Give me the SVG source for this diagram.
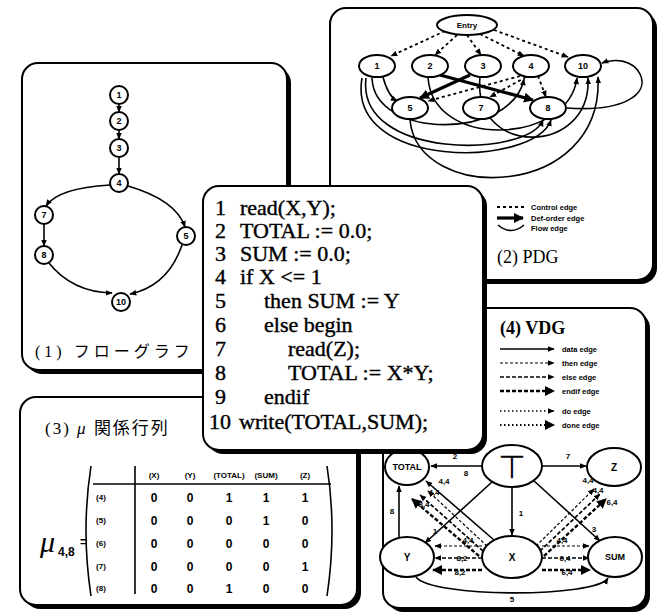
<svg xmlns="http://www.w3.org/2000/svg" width="664" height="616" viewBox="0 0 664 616">
<style>
.pan{fill:#fff;stroke:#000;stroke-width:2}
.sh{fill:#000}
.ln{fill:none;stroke:#000;stroke-width:1.6}
.nd{fill:#fff;stroke:#000;stroke-width:2}
.nt{font-family:"Liberation Sans",Arial,sans-serif;font-weight:bold;font-size:9px;text-anchor:middle;dominant-baseline:central}
.code{font-family:"Liberation Serif","Times New Roman",serif;font-size:22px;fill:#000;stroke:#000;stroke-width:0.4}
.ttl{font-family:"Liberation Serif","Noto Sans CJK JP",serif;font-size:17px;fill:#000}
.lg{font-family:"Liberation Sans",Arial,sans-serif;font-weight:bold;font-size:7.5px;fill:#000}
.sm{font-family:"Liberation Sans",Arial,sans-serif;font-weight:bold;font-size:8px;fill:#000;text-anchor:middle}
.mv{font-family:"Liberation Sans",Arial,sans-serif;font-weight:bold;font-size:12px;fill:#000;text-anchor:middle}
.ctl{fill:none;stroke:#000;stroke-width:1.8;stroke-dasharray:3 3}
.def{fill:none;stroke:#000;stroke-width:3.2}
.then{fill:none;stroke:#000;stroke-width:1.2;stroke-dasharray:3 2}
.else{fill:none;stroke:#000;stroke-width:1.7;stroke-dasharray:4 2}
.endif{fill:none;stroke:#000;stroke-width:2.4;stroke-dasharray:4 2}
.do{fill:none;stroke:#000;stroke-width:1.5;stroke-dasharray:1.5 2.5}
.done{fill:none;stroke:#000;stroke-width:2;stroke-dasharray:1.5 2.5}
</style>
<defs>
<marker id="a" viewBox="0 0 10 10" refX="9" refY="5" markerUnits="userSpaceOnUse" markerWidth="7" markerHeight="7" orient="auto"><path d="M0,1 L10,5 L0,9 z" fill="#000"/></marker>
<marker id="t" viewBox="0 0 10 10" refX="9" refY="5" markerUnits="userSpaceOnUse" markerWidth="10" markerHeight="10" orient="auto"><path d="M0,0 L10,5 L0,10 z" fill="#000"/></marker>
</defs>
<rect width="664" height="616" fill="#fff"/>

<!-- Panel 1: flow graph -->
<g id="panel1">
<rect class="sh" x="26" y="67" width="265" height="307" rx="16"/>
<rect class="pan" x="22" y="63" width="265" height="307" rx="16"/>
<g id="fg-edges">
<path class="ln" d="M119,104 L119,112" marker-end="url(#a)"/>
<path class="ln" d="M119,130 L119,139" marker-end="url(#a)"/>
<path class="ln" d="M119,157 L119,174" marker-end="url(#a)"/>
<path class="ln" d="M110,185 Q58,188 46,206" marker-end="url(#a)"/>
<path class="ln" d="M128,186 Q176,200 185,227" marker-end="url(#a)"/>
<path class="ln" d="M44,224 L44,246" marker-end="url(#a)"/>
<path class="ln" d="M49,263 Q72,292 112,293" marker-end="url(#a)"/>
<path class="ln" d="M182,245 Q168,286 130,294" marker-end="url(#a)"/>
</g>
<g id="fg-n1"><circle class="nd" cx="119" cy="95" r="9"/><text class="nt" x="119" y="95">1</text></g>
<g id="fg-n2"><circle class="nd" cx="119" cy="121" r="9"/><text class="nt" x="119" y="121">2</text></g>
<g id="fg-n3"><circle class="nd" cx="119" cy="148" r="9"/><text class="nt" x="119" y="148">3</text></g>
<g id="fg-n4"><circle class="nd" cx="119" cy="183" r="9"/><text class="nt" x="119" y="183">4</text></g>
<g id="fg-n7"><circle class="nd" cx="44" cy="215" r="9"/><text class="nt" x="44" y="215">7</text></g>
<g id="fg-n8"><circle class="nd" cx="44" cy="255" r="9"/><text class="nt" x="44" y="255">8</text></g>
<g id="fg-n5"><circle class="nd" cx="186" cy="236" r="9"/><text class="nt" x="186" y="236">5</text></g>
<g id="fg-n10"><circle class="nd" cx="121" cy="302" r="9"/><text class="nt" x="121" y="302">10</text></g>
<text class="ttl" x="35" y="357" style="font-size:16px" letter-spacing="4">(1) フローグラフ</text>
</g>

<!-- Panel 2: PDG -->
<g id="panel2">
<rect class="sh" x="334" y="12" width="323" height="272" rx="16"/>
<rect class="pan" x="330" y="8" width="323" height="272" rx="16"/>
<g id="pdg-edges">
<path class="ctl" d="M445,31 L391,56" marker-end="url(#a)"/>
<path class="ctl" d="M457,35 L435,55" marker-end="url(#a)"/>
<path class="ctl" d="M467,35 L481,55" marker-end="url(#a)"/>
<path class="ctl" d="M480,34 L524,56" marker-end="url(#a)"/>
<path class="ctl" d="M494,30 L568,57" marker-end="url(#a)"/>
<path class="ctl" d="M520,76 L428,101" marker-end="url(#a)"/>
<path class="ctl" d="M526,77 L490,97" marker-end="url(#a)"/>
<path class="ctl" d="M538,76 L546,97" marker-end="url(#a)"/>
<path class="def" d="M440,75 L533,100" marker-end="url(#t)"/>
<path class="def" d="M470,75 L420,98" marker-end="url(#t)"/>
<path class="ln" d="M383,77 Q388,96 397,101" marker-end="url(#a)"/>
<path class="ln" d="M372,78 C374,140 512,140 524,79" marker-end="url(#a)"/>
<path class="ln" d="M366,78 C356,160 528,158 543,120" marker-end="url(#a)"/>
<path class="ln" d="M362,78 C346,170 534,168 551,120" marker-end="url(#a)"/>
<path class="ln" d="M428,77 C432,150 568,145 577,78" marker-end="url(#a)"/>
<path class="ln" d="M480,77 C472,158 592,156 588,78" marker-end="url(#a)"/>
<path class="ln" d="M410,120 C418,205 604,200 598,77" marker-end="url(#a)"/>
<path class="ln" d="M567,108 C622,112 650,95 640,74 C633,60 615,58 602,63" marker-end="url(#a)"/>
</g>
<g id="pdg-entry"><ellipse class="nd" cx="467" cy="25" rx="30" ry="10"/><text class="nt" x="467" y="25" style="font-size:8px">Entry</text></g>
<g id="pdg-n1"><ellipse class="nd" cx="377" cy="66" rx="18" ry="11"/><text class="nt" x="377" y="66">1</text></g>
<g id="pdg-n2"><ellipse class="nd" cx="430" cy="66" rx="18" ry="11"/><text class="nt" x="430" y="66">2</text></g>
<g id="pdg-n3"><ellipse class="nd" cx="483" cy="66" rx="18" ry="11"/><text class="nt" x="483" y="66">3</text></g>
<g id="pdg-n4"><ellipse class="nd" cx="531" cy="66" rx="18" ry="11"/><text class="nt" x="531" y="66">4</text></g>
<g id="pdg-n10"><ellipse class="nd" cx="583" cy="66" rx="18" ry="11"/><text class="nt" x="583" y="66">10</text></g>
<g id="pdg-n5"><ellipse class="nd" cx="410" cy="108" rx="18" ry="11"/><text class="nt" x="410" y="108">5</text></g>
<g id="pdg-n7"><ellipse class="nd" cx="481" cy="108" rx="18" ry="11"/><text class="nt" x="481" y="108">7</text></g>
<g id="pdg-n8"><ellipse class="nd" cx="548" cy="108" rx="18" ry="11"/><text class="nt" x="548" y="108">8</text></g>
<g id="pdg-legend">
<path class="ctl" d="M497,207 L525,207"/>
<text class="lg" x="531" y="209.5">Control edge</text>
<path class="def" d="M497,218 L523,218" marker-end="url(#t)"/>
<text class="lg" x="531" y="220.5">Def-order edge</text>
<path class="ln" d="M498,225 Q511,236 524,225"/>
<text class="lg" x="531" y="231">Flow edge</text>
</g>
<text class="ttl" x="497" y="263" style="font-size:18px">(2) PDG</text>
</g>

<!-- Panel 3: mu matrix -->
<g id="panel3">
<rect class="sh" x="24" y="401" width="337" height="208" rx="16"/>
<rect class="pan" x="20" y="397" width="337" height="208" rx="16"/>
<text class="ttl" x="45" y="434" letter-spacing="2">(3) <tspan font-style="italic">μ</tspan> 関係行列</text>
<text x="40" y="552" font-family="Liberation Serif,serif" font-style="italic" font-size="30">μ</text>
<text x="58" y="556" class="lg" style="font-size:12px">4,8</text>
<text x="80" y="546" class="lg" style="font-size:12px">=</text>
<path class="ln" d="M91,466 Q81,530 91,596"/>
<path class="ln" d="M327,466 Q337,530 327,596"/>
<path class="ln" d="M93,484 L331,484"/>
<path class="ln" d="M135,466 L135,594"/>
<text class="sm" x="154" y="478">(X)</text>
<text class="sm" x="190" y="478">(Y)</text>
<text class="sm" x="229" y="478">(TOTAL)</text>
<text class="sm" x="266" y="478">(SUM)</text>
<text class="sm" x="305" y="478">(Z)</text>
<text class="sm" x="101" y="500">(4)</text>
<text class="sm" x="101" y="523">(5)</text>
<text class="sm" x="101" y="546">(6)</text>
<text class="sm" x="101" y="569">(7)</text>
<text class="sm" x="101" y="591">(8)</text>
<g>
<text class="mv" x="154" y="502">0</text><text class="mv" x="190" y="502">0</text><text class="mv" x="229" y="502">1</text><text class="mv" x="266" y="502">1</text><text class="mv" x="305" y="502">1</text>
<text class="mv" x="154" y="525">0</text><text class="mv" x="190" y="525">0</text><text class="mv" x="229" y="525">0</text><text class="mv" x="266" y="525">1</text><text class="mv" x="305" y="525">0</text>
<text class="mv" x="154" y="548">0</text><text class="mv" x="190" y="548">0</text><text class="mv" x="229" y="548">0</text><text class="mv" x="266" y="548">0</text><text class="mv" x="305" y="548">0</text>
<text class="mv" x="154" y="571">0</text><text class="mv" x="190" y="571">0</text><text class="mv" x="229" y="571">0</text><text class="mv" x="266" y="571">0</text><text class="mv" x="305" y="571">1</text>
<text class="mv" x="154" y="593">0</text><text class="mv" x="190" y="593">0</text><text class="mv" x="229" y="593">1</text><text class="mv" x="266" y="593">0</text><text class="mv" x="305" y="593">0</text>
</g>
</g>

<!-- Panel 4: VDG -->
<g id="panel4">
<rect class="sh" x="387" y="312" width="263" height="300" rx="16"/>
<rect class="pan" x="383" y="308" width="263" height="300" rx="16"/>
<text class="ttl" x="500" y="334" font-weight="bold" style="font-size:18px">(4) VDG</text>
<g id="vdg-legend">
<path class="ln" d="M500,349 L554,349" stroke-width="1.2" marker-end="url(#a)"/><text class="lg" x="562" y="352">data  edge</text>
<path class="then" d="M500,363 L554,363" marker-end="url(#a)"/><text class="lg" x="562" y="366">then  edge</text>
<path class="else" d="M500,377 L554,377" marker-end="url(#a)"/><text class="lg" x="562" y="380">else   edge</text>
<path class="endif" d="M500,391 L554,391" marker-end="url(#t)"/><text class="lg" x="562" y="394">endif edge</text>
<path class="do" d="M500,411 L554,411" marker-end="url(#a)"/><text class="lg" x="562" y="414">do      edge</text>
<path class="done" d="M500,425 L554,425" marker-end="url(#t)"/><text class="lg" x="562" y="428">done edge</text>
</g>
<g id="vdg-edges">
<path class="ln" d="M482,466 L431,466" marker-end="url(#a)"/>
<path class="ln" d="M542,466 L586,466" marker-end="url(#a)"/>
<path class="ln" d="M512,487 L512,535" marker-end="url(#a)"/>
<path class="ln" d="M492,482 L425,543" marker-end="url(#a)"/>
<path class="ln" d="M494,540 L426,481" marker-end="url(#a)"/>
<path class="ln" d="M533,480 L600,541" marker-end="url(#a)"/>
<path class="ln" d="M399,538 L399,486" marker-end="url(#a)"/>
<path class="ln" d="M416,577 C432,598 596,598 608,578" marker-end="url(#a)"/>
<path class="then" d="M487,546 L428,491" marker-end="url(#a)"/>
<path class="else" d="M483,551 L420,495" marker-end="url(#a)"/>
<path class="endif" d="M479,556 L412,499" marker-end="url(#t)"/>
<path class="then" d="M536,546 L594,489" marker-end="url(#a)"/>
<path class="else" d="M540,551 L600,494" marker-end="url(#a)"/>
<path class="endif" d="M544,556 L606,499" marker-end="url(#t)"/>
<path class="then" d="M482,546 L435,546" marker-end="url(#a)"/>
<path class="else" d="M482,558 L435,558" marker-end="url(#a)"/>
<path class="endif" d="M482,570 L433,570" marker-end="url(#t)"/>
<path class="then" d="M542,546 L589,546" marker-end="url(#a)"/>
<path class="else" d="M542,558 L589,558" marker-end="url(#a)"/>
<path class="endif" d="M542,570 L590,570" marker-end="url(#t)"/>
</g>
<g id="vdg-labels">
<text class="sm" x="455" y="459">2</text>
<text class="sm" x="568" y="459">7</text>
<text class="sm" x="521" y="516">1</text>
<text class="sm" x="435" y="534">1</text>
<text class="sm" x="466" y="476">8</text>
<text class="sm" x="392" y="514">8</text>
<text class="sm" x="594" y="532">3</text>
<text class="sm" x="512" y="602">5</text>
<text class="sm" x="444" y="484">4,4</text>
<text class="sm" x="434" y="495">4,4</text>
<text class="sm" x="424" y="507">8,4</text>
<text class="sm" x="588" y="483">4,4</text>
<text class="sm" x="598" y="493">4,4</text>
<text class="sm" x="612" y="505">6,4</text>
<text class="sm" x="468" y="543">4,4</text>
<text class="sm" x="462" y="561">8,2</text>
<text class="sm" x="460" y="575">8,2</text>
<text class="sm" x="562" y="543">4,4</text>
<text class="sm" x="565" y="561">6,4</text>
<text class="sm" x="567" y="575">6,4</text>
</g>
<g id="vdg-TOTAL"><ellipse class="nd" cx="407" cy="467" rx="22" ry="18"/><text class="nt" x="407" y="467">TOTAL</text></g>
<g id="vdg-top"><ellipse class="nd" cx="512" cy="466" rx="30" ry="21"/><text x="512" y="478" font-family="DejaVu Sans,sans-serif" font-size="32" text-anchor="middle">⊤</text></g>
<g id="vdg-Z"><ellipse class="nd" cx="614" cy="467" rx="27" ry="19"/><text class="nt" x="614" y="467" style="font-size:10px">Z</text></g>
<g id="vdg-Y"><ellipse class="nd" cx="407" cy="557" rx="27" ry="20"/><text class="nt" x="407" y="557" style="font-size:10px">Y</text></g>
<g id="vdg-X"><ellipse class="nd" cx="512" cy="557" rx="30" ry="21"/><text class="nt" x="512" y="557" style="font-size:10px">X</text></g>
<g id="vdg-SUM"><ellipse class="nd" cx="615" cy="557" rx="27" ry="20"/><text class="nt" x="615" y="557">SUM</text></g>
</g>

<!-- Code panel -->
<g id="code">
<rect class="sh" x="207" y="190" width="280" height="264" rx="16"/>
<rect class="pan" x="203" y="186" width="280" height="264" rx="16"/>
<text class="code" x="215" y="215">1</text><text class="code" x="240" y="215">read(X,Y);</text>
<text class="code" x="215" y="238">2</text><text class="code" x="240" y="238">TOTAL := 0.0;</text>
<text class="code" x="215" y="261">3</text><text class="code" x="240" y="261">SUM   := 0.0;</text>
<text class="code" x="215" y="284">4</text><text class="code" x="240" y="284">if X &lt;= 1</text>
<text class="code" x="215" y="308">5</text><text class="code" x="264" y="308">then SUM := Y</text>
<text class="code" x="215" y="332">6</text><text class="code" x="264" y="332">else begin</text>
<text class="code" x="215" y="356">7</text><text class="code" x="288" y="356">read(Z);</text>
<text class="code" x="215" y="380">8</text><text class="code" x="288" y="380">TOTAL := X*Y;</text>
<text class="code" x="215" y="404">9</text><text class="code" x="264" y="404">endif</text>
<text class="code" x="209" y="429">10</text><text class="code" x="239" y="429">write(TOTAL,SUM);</text>
</g>
</svg>
